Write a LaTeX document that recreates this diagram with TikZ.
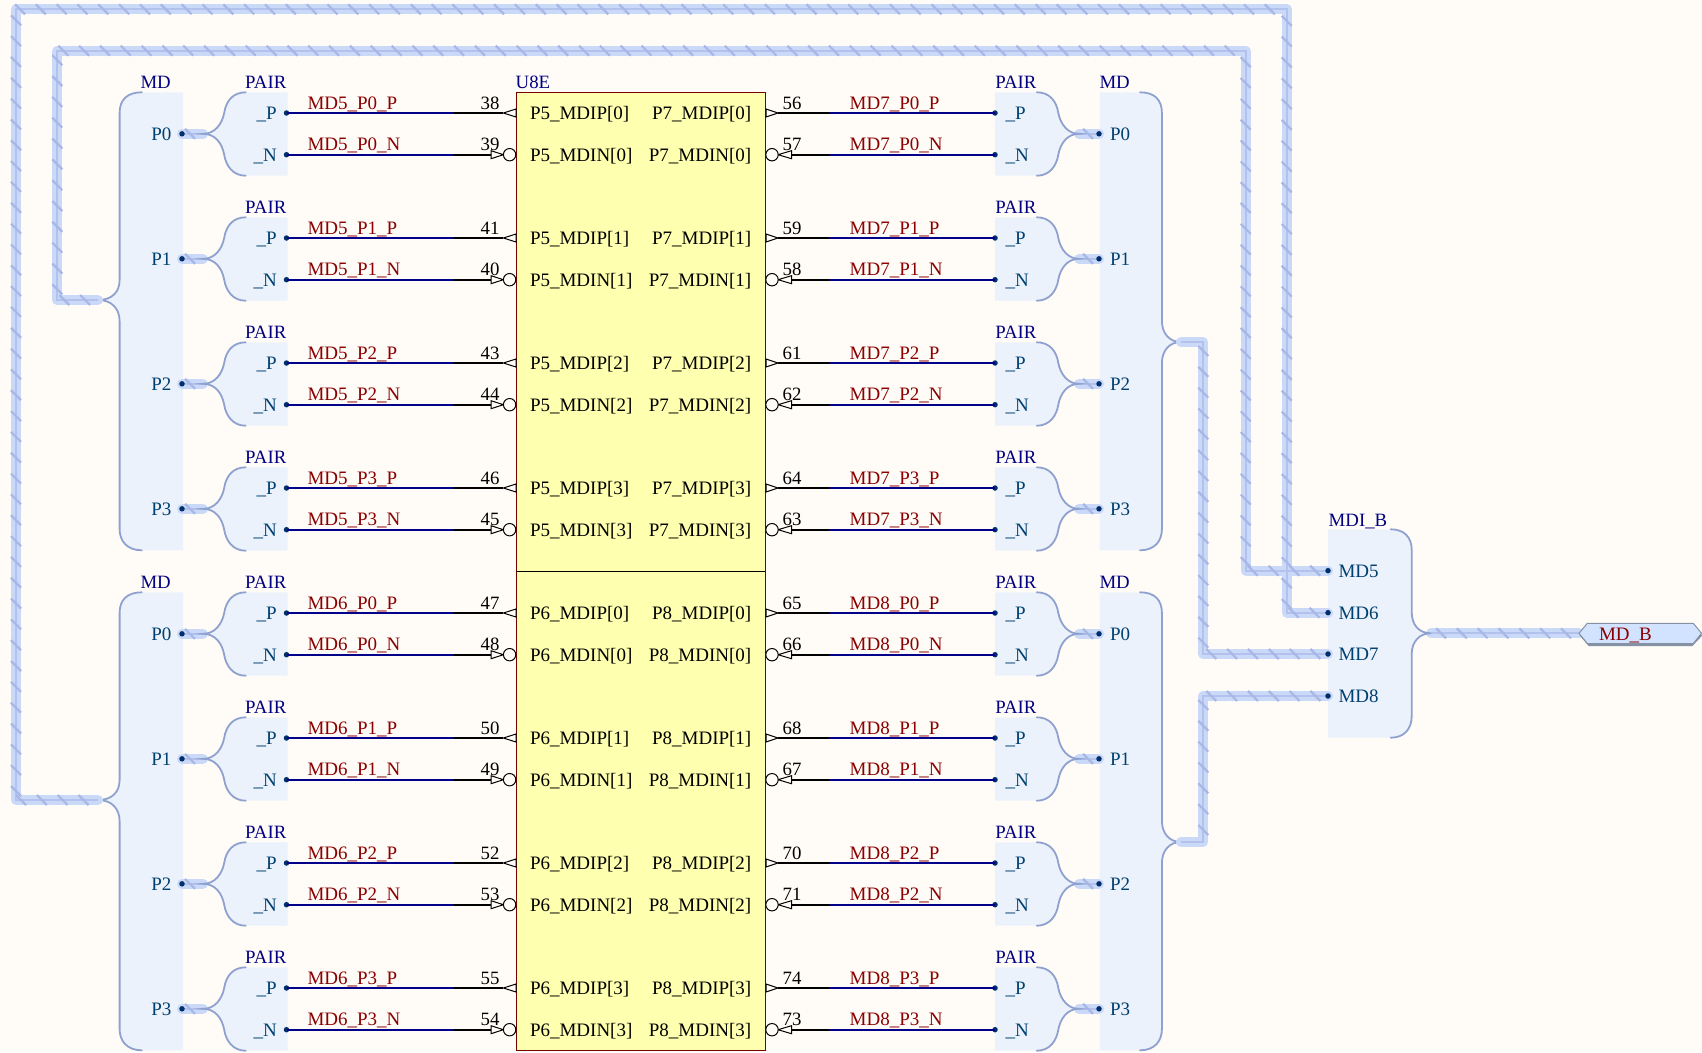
\documentclass[tikz,border=0pt]{standalone}
\usepackage{fontspec}
\setmainfont{Liberation Serif}
\usetikzlibrary{decorations.markings}
\definecolor{bgc}{HTML}{FFFCF7}
\definecolor{symfill}{HTML}{ECF2FB}
\definecolor{brk}{HTML}{8FA1CF}
\definecolor{buspale}{HTML}{CBD9F8}
\definecolor{buscore}{HTML}{B2C2EC}
\definecolor{hatchc}{HTML}{A8B8E6}
\definecolor{dotc}{HTML}{00306B}
\definecolor{portc}{HTML}{004070}
\definecolor{namec}{HTML}{000080}
\definecolor{netc}{HTML}{8B0000}
\definecolor{boxfill}{HTML}{FFFFB0}
\definecolor{wirec}{HTML}{00008B}
\definecolor{portfill}{HTML}{D2E3FF}
\definecolor{portedge}{HTML}{8492A4}
\tikzset{
  txt/.style={inner sep=0pt,outer sep=0pt},
  pinname/.style={txt,text=black,font=\fontsize{19}{19}\selectfont},
  pinnum/.style={txt,text=black,font=\fontsize{18.8}{18.8}\selectfont,anchor=base},
  netlab/.style={txt,text=netc,font=\fontsize{19}{19}\selectfont,anchor=base west},
  portlab/.style={txt,text=portc,font=\fontsize{19}{19}\selectfont},
  symname/.style={txt,text=namec,anchor=base west,font=\fontsize{18.8}{18.8}\selectfont},
  symshade/.style={fill=symfill,draw=none},
  bracket/.style={draw=brk,line width=1.8pt,line cap=round},
  busa/.style={draw=buspale,line width=10pt,line cap=round,line join=round},
  busb/.style={draw=buscore,line width=2pt,line join=miter},
  hatched/.style={postaction={decorate,decoration={markings,
    mark=between positions #1 and 1 step 20.83pt with {\pgftransformresetnontranslations
      \draw[draw=hatchc,line width=2.2pt] (-5pt,5pt)--(5pt,-5pt);}}}},
  netwire/.style={draw=wirec,line width=2.3pt},
  pinwire/.style={draw=black,line width=2pt},
  pinshape/.style={draw=black,line width=1pt,fill=bgc},
  dotnode/.style={circle,fill=dotc,draw=none,inner sep=0pt,minimum size=5.5pt},
}
% one PAIR symbol on the left of the component, with its two nets and pins
\newcommand{\LPair}[5]{%
\begin{scope}[shift={(0,#1-113)}]
  \path[symshade] (245.7,92.3) .. controls (233,92.3) and (226,101) .. (224.2,113)
    .. controls (222,124) and (215,133.8) .. (203,133.8)
    .. controls (215,133.8) and (222,143) .. (224.2,154.7)
    .. controls (226,166) and (233,175.7) .. (245.7,175.7)
    -- (287.5,175.7) -- (287.5,92.3) -- cycle;
  \node[dotnode] (sL#2#3) at (182,133.8) {};
  \coordinate (cL#2#3) at (203,133.8);
  \draw[busa] (sL#2#3.center) -- (cL#2#3);
  \draw[busb] (sL#2#3.center) -- (cL#2#3);
  \path[hatched=8pt] (sL#2#3.center) -- (cL#2#3);
  \node[dotnode] at (sL#2#3.center) {};
  \draw[bracket] (245.7,92.3) .. controls (233,92.3) and (226,101) .. (224.2,113)
    .. controls (222,124) and (215,133.8) .. (203,133.8)
    .. controls (215,133.8) and (222,143) .. (224.2,154.7)
    .. controls (226,166) and (233,175.7) .. (245.7,175.7);
  \node[symname] (tL#2#3) at (245.2,88.7) {PAIR};
  \node[portlab,anchor=base east] (oL#2#3) at (171.5,140.2) {P#3};
  \node[portlab,anchor=base east] (pL#2#3) at (276.8,119.4) {\_P};
  \node[portlab,anchor=base east] (qL#2#3) at (276.8,161.1) {\_N};
  % positive pin
  \node[dotnode] (dL#2#3P) at (286.5,113) {};
  \coordinate (mL#2#3P) at (453.5,113);
  \coordinate (eL#2#3P) at (503.4,113);
  \draw[pinwire] (mL#2#3P) -- (eL#2#3P);
  \draw[netwire] (dL#2#3P.center) -- (mL#2#3P);
  \draw[pinshape] (516,109) -- (eL#2#3P) -- (516,117) -- cycle;
  \node[netlab] (nL#2#3P) at (307.5,109.5) {MD#2\_P#3\_P};
  \node[pinnum] (kL#2#3P) at (490,109) {#4};
  \node[pinname,anchor=base west] (iL#2#3P) at (530,119.4) {P#2\_MDIP[#3]};
  % negative pin
  \node[dotnode] (dL#2#3N) at (286.5,154.7) {};
  \coordinate (mL#2#3N) at (453.5,154.7);
  \coordinate (eL#2#3N) at (491,154.7);
  \draw[pinwire] (mL#2#3N) -- (eL#2#3N);
  \draw[netwire] (dL#2#3N.center) -- (mL#2#3N);
  \draw[pinshape] (eL#2#3N) ++(0,-4) -- (503.4,154.7) -- (491,158.7) -- cycle;
  \draw[pinshape] (509.6,154.7) circle (6.2);
  \node[netlab] (nL#2#3N) at (307.5,150.7) {MD#2\_P#3\_N};
  \node[pinnum] (kL#2#3N) at (490,150.7) {#5};
  \node[pinname,anchor=base west] (iL#2#3N) at (530,161.1) {P#2\_MDIN[#3]};
\end{scope}}
% one PAIR symbol on the right of the component
\newcommand{\RPair}[5]{%
\begin{scope}[shift={(0,#1-113)}]
  \path[symshade] (1036.8,92.3) .. controls (1049.5,92.3) and (1056.5,101) .. (1058.3,113)
    .. controls (1060.5,124) and (1067.5,133.8) .. (1079,133.8)
    .. controls (1067.5,133.8) and (1060.5,143) .. (1058.3,154.7)
    .. controls (1056.5,166) and (1049.5,175.7) .. (1036.8,175.7)
    -- (995,175.7) -- (995,92.3) -- cycle;
  \node[dotnode] (sR#2#3) at (1099,133.8) {};
  \coordinate (cR#2#3) at (1079,133.8);
  \draw[busa] (sR#2#3.center) -- (cR#2#3);
  \draw[busb] (sR#2#3.center) -- (cR#2#3);
  \path[hatched=11pt] (sR#2#3.center) -- (cR#2#3);
  \node[dotnode] at (sR#2#3.center) {};
  \draw[bracket] (1036.8,92.3) .. controls (1049.5,92.3) and (1056.5,101) .. (1058.3,113)
    .. controls (1060.5,124) and (1067.5,133.8) .. (1079,133.8)
    .. controls (1067.5,133.8) and (1060.5,143) .. (1058.3,154.7)
    .. controls (1056.5,166) and (1049.5,175.7) .. (1036.8,175.7);
  \node[symname] (tR#2#3) at (995.3,88.7) {PAIR};
  \node[portlab,anchor=base west] (oR#2#3) at (1110,140.2) {P#3};
  \node[portlab,anchor=base west] (pR#2#3) at (1005.5,119.4) {\_P};
  \node[portlab,anchor=base west] (qR#2#3) at (1005.5,161.1) {\_N};
  % positive pin
  \node[dotnode] (dR#2#3P) at (995,113) {};
  \coordinate (mR#2#3P) at (829,113);
  \coordinate (eR#2#3P) at (778,113);
  \draw[pinwire] (mR#2#3P) -- (eR#2#3P);
  \draw[netwire] (dR#2#3P.center) -- (mR#2#3P);
  \draw[pinshape] (766,109) -- (eR#2#3P) -- (766,117) -- cycle;
  \node[netlab] (nR#2#3P) at (849.7,109.5) {MD#2\_P#3\_P};
  \node[pinnum] (kR#2#3P) at (792,109) {#4};
  \node[pinname,anchor=base east] (iR#2#3P) at (751.3,119.4) {P#2\_MDIP[#3]};
  % negative pin
  \node[dotnode] (dR#2#3N) at (995,154.7) {};
  \coordinate (mR#2#3N) at (829,154.7);
  \coordinate (eR#2#3N) at (791.5,154.7);
  \draw[pinwire] (mR#2#3N) -- (eR#2#3N);
  \draw[netwire] (dR#2#3N.center) -- (mR#2#3N);
  \draw[pinshape] (791.5,150.7) -- (778,154.7) -- (791.5,158.7) -- cycle;
  \draw[pinshape] (772,154.7) circle (6.2);
  \node[netlab] (nR#2#3N) at (849.7,150.7) {MD#2\_P#3\_N};
  \node[pinnum] (kR#2#3N) at (792,150.7) {#5};
  \node[pinname,anchor=base east] (iR#2#3N) at (751.3,161.1) {P#2\_MDIN[#3]};
\end{scope}}
% the two MD bus symbols (shifted by #1)
\newcommand{\LMD}[1]{%
\begin{scope}[shift={(0,#1)}]
  \path[symshade] (141.8,92.3) .. controls (127,92.3) and (119.6,100) .. (119.6,113) -- (119.6,280)
    .. controls (119.6,292) and (112,300) .. (98,300)
    .. controls (112,300) and (119.6,309) .. (119.6,321) -- (119.6,529)
    .. controls (119.6,541) and (127,550.3) .. (141.8,550.3)
    -- (183,550.3) -- (183,92.3) -- cycle;
  \draw[bracket] (141.8,92.3) .. controls (127,92.3) and (119.6,100) .. (119.6,113) -- (119.6,280)
    .. controls (119.6,292) and (112,300) .. (98,300)
    .. controls (112,300) and (119.6,309) .. (119.6,321) -- (119.6,529)
    .. controls (119.6,541) and (127,550.3) .. (141.8,550.3);
\end{scope}}
\newcommand{\RMD}[1]{%
\begin{scope}[shift={(0,#1)}]
  \path[symshade] (1140,92.3) .. controls (1154.8,92.3) and (1161.9,100) .. (1161.9,113) -- (1161.9,321)
    .. controls (1161.9,333) and (1169,342) .. (1181,342)
    .. controls (1169,342) and (1161.9,351) .. (1161.9,363) -- (1161.9,529)
    .. controls (1161.9,541) and (1154.8,550.3) .. (1140,550.3)
    -- (1099.5,550.3) -- (1099.5,92.3) -- cycle;
  \draw[bracket] (1140,92.3) .. controls (1154.8,92.3) and (1161.9,100) .. (1161.9,113) -- (1161.9,321)
    .. controls (1161.9,333) and (1169,342) .. (1181,342)
    .. controls (1169,342) and (1161.9,351) .. (1161.9,363) -- (1161.9,529)
    .. controls (1161.9,541) and (1154.8,550.3) .. (1140,550.3);
\end{scope}}
\begin{document}
\begin{tikzpicture}[x=1pt,y=-1pt]
\useasboundingbox (0,0) rectangle (1702,1052);
\fill[bgc] (0,0) rectangle (1702,1052);

% symbol bodies
\LMD{0}\LMD{500}\RMD{0}\RMD{500}
\path[symshade] (1390.7,529.3) .. controls (1404,529.3) and (1411.7,537) .. (1411.7,550) -- (1411.7,612)
  .. controls (1411.7,625) and (1419,633.3) .. (1431,633.3)
  .. controls (1419,633.3) and (1411.7,642) .. (1411.7,654) -- (1411.7,716)
  .. controls (1411.7,729) and (1404,737.7) .. (1390.7,737.7)
  -- (1328,737.7) -- (1328,529.3) -- cycle;

% junction coordinates of the long buses
\coordinate (jA) at (98,800);   \coordinate (jA1) at (16,800);
\coordinate (jA2) at (16,9.3);  \coordinate (jA3) at (1286.7,9.3);
\coordinate (jA4) at (1286.7,612.7);
\coordinate (jB) at (98,300);   \coordinate (jB1) at (57.3,300);
\coordinate (jB2) at (57.3,50.7); \coordinate (jB3) at (1245.7,50.7);
\coordinate (jB4) at (1245.7,570.7);
\coordinate (jC) at (1181,342); \coordinate (jC1) at (1203.3,342);
\coordinate (jC2) at (1203.3,654);
\coordinate (jD) at (1181,842); \coordinate (jD1) at (1203.3,842);
\coordinate (jD2) at (1203.3,696);
\coordinate (jE) at (1431,633.3);
\node[dotnode] (md5) at (1328,570.7) {};
\node[dotnode] (md6) at (1328,612.7) {};
\node[dotnode] (md7) at (1328,654) {};
\node[dotnode] (md8) at (1328,696) {};
\coordinate (portL) at (1579,633.3);

% long buses
\foreach \st in {busa,busb}{
  \draw[\st] (jA) -- (jA1) -- (jA2) -- (jA3) -- (jA4) -- (md6.center);
  \draw[\st] (jB) -- (jB1) -- (jB2) -- (jB3) -- (jB4) -- (md5.center);
  \draw[\st] (jC) -- (jC1) -- (jC2) -- (md7.center);
  \draw[\st] (jD) -- (jD1) -- (jD2) -- (md8.center);
  \draw[\st] (jE) -- (portL);
}
\path[hatched=5pt] (jA1) -- (jA);
\path[hatched=11pt] (jA2) -- (jA1);
\path[hatched=4pt] (jA2) -- (jA3);
\path[hatched=11.5pt] (jA3) -- (jA4);
\path[hatched=7pt] (jA4) -- (md6.center);
\path[hatched=7pt] (jB1) -- (jB);
\path[hatched=9.5pt] (jB2) -- (jB1);
\path[hatched=6pt] (jB2) -- (jB3);
\path[hatched=11.5pt] (jB3) -- (jB4);
\path[hatched=7pt] (jB4) -- (md5.center);
\path[hatched=9pt] (jC1) -- (jC2);
\path[hatched=8pt] (jC2) -- (md7.center);
\path[hatched=9pt] (jD2) -- (jD1);
\path[hatched=8pt] (jD2) -- (md8.center);
\path[hatched=10pt] (jE) -- (portL);
\node[dotnode] at (md5.center) {};
\node[dotnode] at (md6.center) {};
\node[dotnode] at (md7.center) {};
\node[dotnode] at (md8.center) {};

% MDI_B bracket
\draw[bracket] (1390.7,529.3) .. controls (1404,529.3) and (1411.7,537) .. (1411.7,550) -- (1411.7,612)
  .. controls (1411.7,625) and (1419,633.3) .. (1431,633.3)
  .. controls (1419,633.3) and (1411.7,642) .. (1411.7,654) -- (1411.7,716)
  .. controls (1411.7,729) and (1404,737.7) .. (1390.7,737.7);

% component
\node[draw=netc!85!black,fill=boxfill,line width=1pt,minimum width=249.4pt,minimum height=958.1pt,inner sep=0pt,anchor=north west] (u8e) at (515.7,92.3) {};
\draw[black,line width=1pt] (515.7,571.2) -- (765.1,571.2);
\node[symname] (u8elab) at (515.7,88.7) {U8E};

% pairs
\LPair{113}{5}{0}{38}{39}
\LPair{238}{5}{1}{41}{40}
\LPair{363}{5}{2}{43}{44}
\LPair{488}{5}{3}{46}{45}
\LPair{613}{6}{0}{47}{48}
\LPair{738}{6}{1}{50}{49}
\LPair{863}{6}{2}{52}{53}
\LPair{988}{6}{3}{55}{54}
\RPair{113}{7}{0}{56}{57}
\RPair{238}{7}{1}{59}{58}
\RPair{363}{7}{2}{61}{62}
\RPair{488}{7}{3}{64}{63}
\RPair{613}{8}{0}{65}{66}
\RPair{738}{8}{1}{68}{67}
\RPair{863}{8}{2}{70}{71}
\RPair{988}{8}{3}{74}{73}

% symbol names
\node[symname] (mdA) at (140.5,88.7) {MD};
\node[symname] (mdB) at (140.5,588.7) {MD};
\node[symname] (mdC) at (1099.5,88.7) {MD};
\node[symname] (mdD) at (1099.5,588.7) {MD};
\node[symname] (mdib) at (1328.7,526) {MDI\_B};
\node[portlab,anchor=base west] (l5) at (1338.5,577) {MD5};
\node[portlab,anchor=base west] (l6) at (1338.5,619) {MD6};
\node[portlab,anchor=base west] (l7) at (1338.5,660.3) {MD7};
\node[portlab,anchor=base west] (l8) at (1338.5,702.3) {MD8};

% off-page port
\draw[portedge,line width=1.2pt,fill=portedge] (1580,635) -- (1589,645.5) -- (1692,645.5) -- (1702,635);
\draw[portedge,line width=1pt,fill=portfill] (portL) -- (1587.3,623.3) -- (1693.3,623.3) -- (1701.5,633.3) -- (1693.3,643.5) -- (1587.3,643.5) -- cycle;
\node[txt,text=netc,anchor=base west,font=\fontsize{19}{19}\selectfont] (mdbl) at (1599,640) {MD\_B};
\end{tikzpicture}
\end{document}
